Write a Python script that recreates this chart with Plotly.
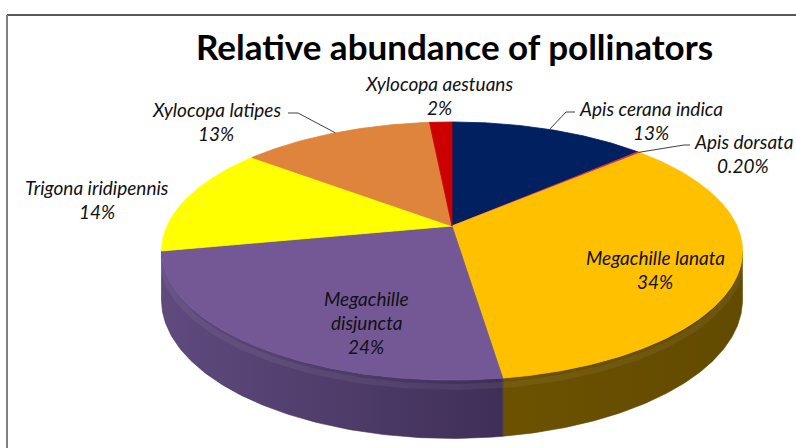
import numpy as np
import plotly.graph_objects as go

# ---------------- data ----------------
species = ["Apis cerana indica", "Apis dorsata", "Megachille lanata",
           "Megachille disjuncta", "Trigona iridipennis", "Xylocopa latipes",
           "Xylocopa aestuans"]
abundance = [13.2, 0.2, 34.3, 24.2, 13.7, 12.9, 1.5]          # % of visits
pct_labels = ["13%", "0.20%", "34%", "24%", "14%", "13%", "2%"]
title_text = "Relative abundance of pollinators"

# ---------------- styles ----------------
top_colors = ["#002060", "#D8304A", "#FFC000", "#745896", "#FFFF00", "#DE843C", "#CC0000"]
side_colors = [("#001540", "#000F30"), ("#901020", "#700010"), ("#6C5200", "#624A00"),
               ("#604A7E", "#3F2F57"), ("#9A9A00", "#808000"), ("#8E5222", "#70401A"),
               ("#800000", "#600000")]
# label placement: (x centre, y of first line, line breaks inside name?)
label_pos = [(651, 108, False), (743, 141, False), (655, 257, False),
             (366, 298, True), (97, 187, False), (216, 109, False), (439, 83, False)]
# leader lines: slice index -> (elbow x, elbow y, end x)
leaders = {0: (566, 112, 575), 1: (684, 145, 690), 5: (298, 113, 288)}

# pseudo-3D projection of the pie (perspective tilt)
CX, CY = 452.0, 226.0
A, B, K = 285.0, 124.2, 0.194
H = 47.0
W, HT = 796, 448


def proj(alpha_deg, drop=0.0):
    a = np.radians(alpha_deg)
    u, v = np.sin(a), np.cos(a)
    w = 1 + K * v
    return CX + A * u / w, CY - B * v / w + H * drop / w


vals = np.array(abundance, dtype=float)
frac = vals / vals.sum()
edges = np.concatenate([[0], np.cumsum(frac)]) * 360.0

fig = go.Figure()

# ---- visible side walls (front half only) ----
a_r = np.degrees(np.arccos(-K))
a_l = 360 - a_r
for i in range(len(vals)):
    s0, s1 = max(edges[i], a_r), min(edges[i + 1], a_l)
    if s1 <= s0:
        continue
    ang = np.linspace(s0, s1, 120)
    xt, yt = proj(ang)
    xb, yb = proj(ang[::-1], 1.0)
    xs = np.concatenate([xt, xb, xt[:1]])
    ys = np.concatenate([yt, yb, yt[:1]])
    c1, c2 = side_colors[i]
    fig.add_trace(go.Scatter(
        x=xs, y=ys, mode="lines", fill="toself",
        line=dict(width=0.6, color=c2),
        fillgradient=dict(type="horizontal",
                          colorscale=[[0, c1], [1, c2]] if xt[0] > xt[-1] else [[0, c2], [1, c1]],
                          start=float(min(xs)), stop=float(max(xs))),
        hoverinfo="skip", showlegend=False))
    # soft rim highlight just under the top edge
    xh, yh = proj(ang, 0.12)
    fig.add_trace(go.Scatter(x=xh, y=yh, mode="lines",
                             line=dict(width=6, color="rgba(255,255,255,0.06)"),
                             hoverinfo="skip", showlegend=False))

# ---- top faces ----
for i in range(len(vals)):
    ang = np.linspace(edges[i], edges[i + 1], max(3, int((edges[i + 1] - edges[i]) * 2)))
    xa, ya = proj(ang)
    xs = np.concatenate([[CX], xa, [CX]])
    ys = np.concatenate([[CY], ya, [CY]])
    fig.add_trace(go.Scatter(
        x=xs, y=ys, mode="lines", fill="toself", fillcolor=top_colors[i],
        line=dict(width=0.8, color=top_colors[i]),
        hoverinfo="skip", showlegend=False))

# ---- leader lines ----
for i, (ex, ey, endx) in leaders.items():
    mid = (edges[i] + edges[i + 1]) / 2
    px, py = proj(mid)
    fig.add_trace(go.Scatter(x=[px, ex, endx], y=[py, ey, ey], mode="lines",
                             line=dict(width=1, color="#404040"),
                             hoverinfo="skip", showlegend=False))

# ---- data labels ----
for i, name in enumerate(species):
    x0, y0, wrap = label_pos[i]
    lines = (name.split(" ") if wrap else [name]) + [pct_labels[i]]
    for j, t in enumerate(lines):
        fig.add_annotation(x=x0, y=y0 + 24 * j, text=f"<i>{t}</i>", showarrow=False,
                           xanchor="center", yanchor="middle",
                           font=dict(family="Lato", size=19, color="#111111"))

# ---- title ----
fig.add_annotation(x=454, y=46, text=f"<b>{title_text}</b>", showarrow=False,
                   xanchor="center", yanchor="middle",
                   font=dict(family="Lato", size=35, color="#000000"))

# ---- chart frame ----
fig.add_shape(type="line", x0=7, x1=W, y0=15, y1=15, line=dict(color="#202020", width=1.5))
fig.add_shape(type="line", x0=7, x1=7, y0=15, y1=HT, line=dict(color="#808080", width=2))

fig.update_layout(
    width=W, height=HT, margin=dict(l=0, r=0, t=0, b=0),
    paper_bgcolor="white", plot_bgcolor="white",
    xaxis=dict(range=[0, W], visible=False, fixedrange=True),
    yaxis=dict(range=[HT, 0], visible=False, fixedrange=True),
    showlegend=False,
)
fig.write_html("out.html", config={"displayModeBar": False})
